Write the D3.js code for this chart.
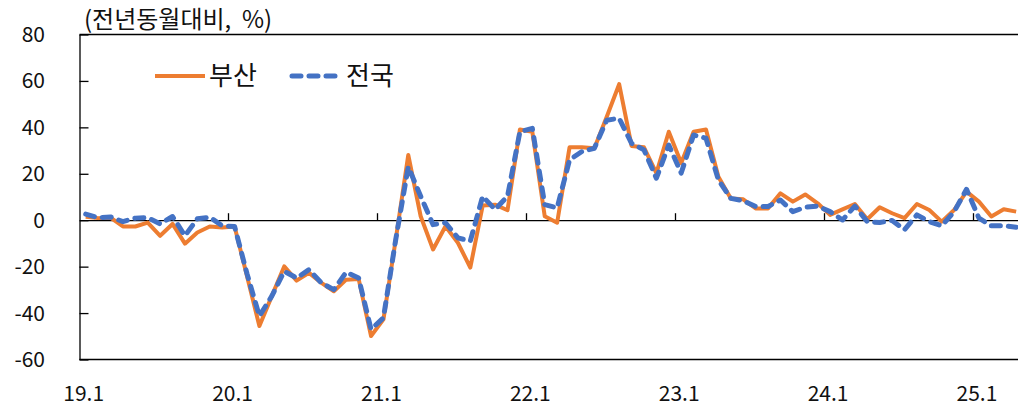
<!DOCTYPE html>
<html>
<head>
<meta charset="utf-8">
<script src="https://cdn.jsdelivr.net/npm/d3@7"></script>
<style>
  body { margin: 0; background: #fff; }
  text { font-family: "Noto Sans CJK KR", "Noto Sans", sans-serif; fill: #111; }
</style>
</head>
<body>
<script>
// month labels 19.1 ~ 25.4
var months = [];
for (var yr = 19; yr <= 25; yr++) {
  for (var m = 1; m <= 12; m++) {
    if (yr == 25 && m > 4) break;
    months.push(yr + "." + m);
  }
}

var busan = [1.5, 0.9, 1.1, -2.7, -2.7, -1.0, -6.7, -1.6, -10.1, -5.3, -2.7, -3.1,
  -2.7, -24, -45.6, -32.7, -19.9, -26, -22.7, -27, -30.6, -25.6, -25.3, -49.9,
  -42.7, -8, 28.1, 1.7, -12.6, -2.6, -9.7, -20.4, 6.3, 6.7, 4.3, 39.1,
  38.1, 1.7, -1.1, 31.4, 31.4, 31, 44.6, 58.6, 32, 31.4, 20.3, 38.1,
  24.6, 38.1, 39.1, 18.7, 9.4, 9, 5.1, 5.1, 11.6, 8, 11.1, 7.3,
  2.3, 4.7, 7, 0.4, 5.6, 3, 0.9, 7, 4.4, -0.6, 4.4, 12.3,
  8, 1.6, 4.7, 3.7];

var national = [2.6, 1.1, 1.4, -0.6, 0.9, 1.1, -1.6, 1.6, -6.7, 0.6, 1.3, -2.4,
  -2.7, -23, -41.3, -32.7, -22, -24.9, -21.3, -27, -29.9, -22.4, -24.9, -47,
  -42, -8, 23, 10.3, -1.9, -1.1, -7.6, -9, 10.3, 4.6, 10.3, 38.1,
  39.6, 6.7, 5.3, 26, 29.6, 31, 43.1, 43.9, 33.1, 30.3, 18.1, 32.4,
  20.3, 36.7, 35.3, 17.3, 9.4, 8.4, 5.9, 5.9, 8.7, 3.7, 5.6, 6.1,
  3.7, 0.1, 6.1, -0.6, -1, -0.1, -4.1, 2.3, -0.6, -2.4, 3.7, 13.3,
  0.9, -2.4, -2.4, -3];

var yTicks = [-60, -40, -20, 0, 20, 40, 60, 80];
var seriesNames = ["부산", "전국"];
var unitLabel = "(전년동월대비,\u00a0\u00a0%)";

var width = 1018, height = 407;
var plotLeft = 79.5, plotTop = 34.5, plotBottom = 359.5;
var plotRight = plotLeft + months.length * 12.406;   // plot runs past the picture edge

var svg = d3.select("body").append("svg")
  .attr("width", width)
  .attr("height", height);

var x = d3.scaleBand()
  .domain(months)
  .range([plotLeft, plotRight])
  .padding(0);

var y = d3.scaleLinear()
  .domain([-60, 80])
  .range([plotBottom, plotTop]);

var cx = function(i) { return x(months[i]) + x.bandwidth() / 2; };

// frame: top and bottom
svg.append("line").attr("x1", plotLeft).attr("x2", plotRight).attr("y1", plotTop).attr("y2", plotTop)
  .attr("stroke", "#000").attr("stroke-width", 1.3);
svg.append("line").attr("x1", plotLeft).attr("x2", plotRight).attr("y1", plotBottom).attr("y2", plotBottom)
  .attr("stroke", "#000").attr("stroke-width", 1.3);

// y axis with inward ticks
var yAxis = d3.axisRight(y).tickValues(yTicks).tickSize(9).tickSizeOuter(0).tickFormat("");
var gy = svg.append("g").attr("transform", "translate(" + plotLeft + ",0)").call(yAxis);
gy.select(".domain").attr("stroke", "#000").attr("stroke-width", 1.3);
gy.selectAll(".tick line").attr("stroke", "#000").attr("stroke-width", 1.3);

svg.selectAll(".ylab")
  .data(yTicks)
  .enter()
  .append("text")
  .attr("class", "ylab")
  .attr("x", 45)
  .attr("y", d => y(d) + 7.5)
  .attr("text-anchor", "end")
  .style("font-size", "21px")
  .text(d => d);

// x axis on the zero line, ticks at the year boundaries
var yearMonths = months.filter(d => d.split(".")[1] == "1");
var xAxis = d3.axisTop(x).tickValues(yearMonths).tickSize(0).tickSizeOuter(0).tickFormat("");
var gx = svg.append("g").attr("transform", "translate(0," + y(0) + ")").call(xAxis);
gx.select(".domain").attr("stroke", "#000").attr("stroke-width", 1.3);
gx.selectAll(".tick").remove();

svg.selectAll(".xtick")
  .data(yearMonths.slice(1))
  .enter()
  .append("line")
  .attr("x1", d => Math.round(x(d)) + 0.5)
  .attr("x2", d => Math.round(x(d)) + 0.5)
  .attr("y1", y(0))
  .attr("y2", y(0) - 7)
  .attr("stroke", "#000")
  .attr("stroke-width", 1.3);

svg.selectAll(".xlab")
  .data(yearMonths)
  .enter()
  .append("text")
  .attr("class", "xlab")
  .attr("x", d => x(d) + x.bandwidth() / 2 - 2)
  .attr("y", 401)
  .attr("text-anchor", "middle")
  .style("font-size", "21px")
  .text(d => d);

// lines
var line = d3.line()
  .x((d, i) => cx(i))
  .y(d => y(d));

svg.append("path")
  .datum(busan)
  .attr("d", line)
  .attr("fill", "none")
  .attr("stroke", "#ED7D31")
  .attr("stroke-width", 4)
  .attr("stroke-linejoin", "round");

svg.append("path")
  .datum(national)
  .attr("d", line)
  .attr("fill", "none")
  .attr("stroke", "#4472C4")
  .attr("stroke-width", 5)
  .attr("stroke-dasharray", "9,8")
  .attr("stroke-linecap", "round")
  .attr("stroke-linejoin", "round");

// legend
svg.append("line").attr("x1", 155).attr("x2", 205).attr("y1", 76).attr("y2", 76)
  .attr("stroke", "#ED7D31").attr("stroke-width", 4);
svg.append("text").attr("x", 209).attr("y", 85).style("font-size", "26px").text(seriesNames[0]);
svg.append("line").attr("x1", 292).attr("x2", 338).attr("y1", 76).attr("y2", 76)
  .attr("stroke", "#4472C4").attr("stroke-width", 5)
  .attr("stroke-dasharray", "9,8").attr("stroke-linecap", "round");
svg.append("text").attr("x", 346).attr("y", 85).style("font-size", "26px").text(seriesNames[1]);

// unit label
svg.append("text").attr("x", 84).attr("y", 28).style("font-size", "24px").text(unitLabel);
</script>
</body>
</html>
